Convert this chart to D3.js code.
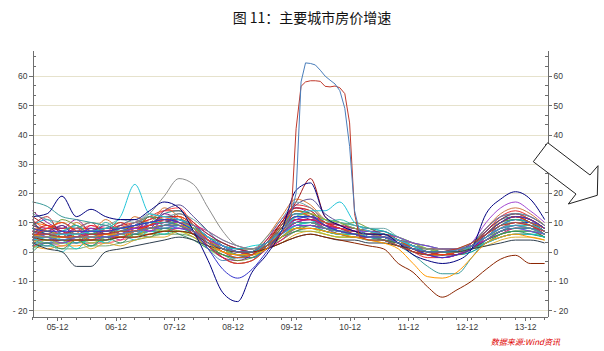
<!DOCTYPE html>
<meta charset="utf-8">
<style>
body { margin: 0; background: #fff; }
text.title { font-family: "Noto Sans CJK SC", sans-serif; font-size: 14px; fill: #111; text-anchor: middle; }
.axis text { font-family: "Liberation Sans", Arial, sans-serif; font-size: 8.5px; fill: #3a3a3a; }
.axis path, .axis line { stroke: #6e6e6e; shape-rendering: crispEdges; }
line.minor { stroke: #6e6e6e; shape-rendering: crispEdges; }
line.grid { stroke: #e6e2cc; shape-rendering: crispEdges; }
text.source { font-family: "Noto Sans CJK SC", sans-serif; font-size: 8px; font-style: italic; fill: #e00000; text-anchor: end; }
</style>
<script src="https://d3js.org/d3.v7.min.js"></script>
<div id="chart"></div>
<script>

// quarterly sample months shared by most cities
const quarterMonths = ["2005-07","2005-10","2006-01","2006-04","2006-07","2006-10","2007-01","2007-04","2007-07","2007-10","2008-01","2008-04","2008-07","2008-10","2009-01","2009-04","2009-07","2009-10","2010-01","2010-04","2010-07","2010-10","2011-01","2011-04","2011-07","2011-10","2012-01","2012-04","2012-07","2012-10","2013-01","2013-04","2013-07","2013-10","2014-01","2014-04"];

// the two spiking cities have monthly points around 2010
const spikeMonths = ["2005-07","2005-10","2006-01","2006-04","2006-07","2006-10","2007-01","2007-04","2007-07","2007-10","2008-01","2008-04","2008-07","2008-10","2009-01","2009-04","2009-07","2009-10",
  "2009-11","2009-12","2010-01","2010-02","2010-03","2010-04","2010-05","2010-06","2010-07","2010-08","2010-09","2010-10","2010-11","2010-12","2011-01","2011-02",
  "2011-04","2011-07","2011-10","2012-01","2012-04","2012-07","2012-10","2013-01","2013-04","2013-07","2013-10","2014-01","2014-04"];

const xTickMonths = ["2005-12","2006-12","2007-12","2008-12","2009-12","2010-12","2011-12","2012-12","2013-12"];
const xTickLabels = ["05-12","06-12","07-12","08-12","09-12","10-12","11-12","12-12","13-12"];
const yTicks = [-20,-10,0,10,20,30,40,50,60];

// city series (YoY %, quarterly)
const c01 = [9,7,6,7,7,6, 8,10,12,14,14,10, 4,-2,-4,-3,3,10, 16,15,10,8,7,6, 6,3,0,-2,-2,-1, 2,7,12,14,12,9];
const c02 = [4,6,3,5,2,4, 5,5,6,6,7,6, 4,2,1,1,2,4, 7,7,6,5,5,4, 4,3,2,1,1,1, 2,3,5,6,6,5];
const c03 = [7,6,5,5,6,6, 7,8,9,10,9,7, 3,0,-1,-1,2,8, 12,12,9,8,7,6, 5,3,1,-1,-1,0, 2,6,9,11,10,7];
const c04 = [3,2,3,4,3,4, 5,6,8,9,10,8, 4,1,-1,0,3,6, 10,10,8,7,6,5, 4,2,0,-1,-1,0, 1,4,7,8,7,5];
const c05 = [10,7,9,6,8,7, 8,9,10,11,10,8, 4,1,-1,-2,2,8, 13,12,8,7,6,5, 5,3,1,-1,-2,-1, 1,5,9,11,10,7];
const c06 = [5,5,4,5,5,6, 7,8,8,9,9,7, 3,1,0,0,3,6, 9,10,8,7,6,6, 5,4,2,1,0,0, 2,5,7,8,8,6];
const c07 = [2,1,2,2,3,3, 4,5,6,7,8,7, 4,2,0,0,2,5, 9,10,9,8,7,6, 6,4,2,1,0,0, 1,4,7,9,9,7];
const c08 = [8,6,5,6,6,5, 6,7,9,13,14,9, 3,0,-1,-1,3,9, 14,13,9,7,6,5, 4,2,0,-1,-1,0, 3,7,11,12,10,7];
const c09 = [6,5,5,6,6,6, 7,8,9,10,11,9, 5,2,0,-1,2,6, 11,12,10,8,7,6, 6,4,2,0,0,1, 2,5,8,10,10,8];
const c10 = [12,9,7,6,6,6, 7,9,11,12,12,9, 5,1,-1,-1,3,10, 17,25,12,9,7,6, 5,3,1,0,-1,0, 2,6,10,12,10,7];
const c11 = [4,3,3,3,4,4, 5,6,7,8,7,5, 1,-2,-4,-3,1,5, 8,8,6,5,5,4, 4,2,0,-1,-1,0, 1,3,6,7,7,5];
const c12 = [5,3,6,3,6,5, 6,7,7,8,8,6, 2,-1,-2,-2,1,5, 9,9,7,6,5,4, 4,3,1,0,-1,0, 1,4,7,9,9,7];
const c13 = [3,3,2,3,3,3, 4,5,6,7,8,7, 5,3,1,0,1,4, 7,8,7,6,6,5, 5,4,3,2,1,1, 1,3,5,6,6,5];
const c14 = [7,7,6,6,6,7, 8,9,10,11,11,9, 5,2,0,0,2,6, 10,10,8,7,6,5, 5,4,2,0,-1,-1, 1,4,7,8,8,6];
const c15 = [9,8,8,8,8,8, 8,9,10,10,10,8, 5,2,1,0,3,8, 12,11,8,6,5,5, 4,3,1,0,0,0, 2,6,10,12,11,8];
const c16 = [2,2,1,1,2,2, 3,4,5,6,6,5, 2,0,-1,-1,1,4, 7,8,7,6,6,5, 5,4,2,1,0,0, 1,3,5,6,6,5];
const c17 = [11,8,10,7,9,8, 9,10,11,14,15,9, 4,0,-1,-1,3,9, 15,14,9,7,6,5, 5,2,0,-1,-2,-1, 2,7,11,13,11,8];
const c18 = [6,6,6,7,7,7, 7,8,8,9,9,8, 5,3,1,1,3,6, 10,10,8,7,7,6, 6,5,3,1,1,1, 2,5,8,9,9,7];
const c19 = [1,3,0,4,2,5, 5,6,7,8,9,7, 3,0,-2,-2,1,5, 9,10,8,7,6,5, 5,3,1,-1,-1,-1, 0,3,6,8,8,6];
const c20 = [8,7,6,6,7,7, 8,9,10,11,10,8, 3,0,-2,-2,1,6, 10,10,8,7,6,5, 5,3,1,0,-1,-1, 1,5,8,10,9,7];
const c21 = [5,5,5,5,5,5, 6,6,7,8,8,7, 4,2,1,1,2,5, 8,9,8,7,6,6, 5,4,3,2,1,1, 2,4,6,7,7,6];
const c22 = [4,4,4,5,5,5, 6,7,8,9,9,8, 5,2,0,0,2,6, 10,11,9,8,7,6, 6,4,2,0,0,0, 2,5,8,9,9,7];
const c23 = [7,6,5,6,6,6, 7,8,9,10,10,8, 4,1,0,-1,2,7, 11,11,8,7,6,5, 5,3,1,0,0,0, 1,4,7,8,8,6];
const c24 = [3,3,4,4,4,5, 6,7,8,9,9,7, 3,0,-1,-1,2,7, 11,11,9,8,7,6, 5,4,2,1,0,0, 2,5,9,11,10,8];
const c25 = [10,9,8,8,8,7, 8,8,9,10,10,8, 4,1,0,0,3,7, 11,11,8,7,6,6, 5,3,1,0,0,0, 2,5,8,9,9,7];
const c26 = [6,4,7,3,5,6, 6,7,8,8,8,6, 2,-1,-2,-2,1,5, 8,9,7,6,6,5, 4,3,1,0,-1,-1, 0,3,6,7,7,5];
const c27 = [5,6,6,6,6,6, 6,7,8,9,10,9, 6,3,1,0,2,6, 10,11,9,7,6,5, 5,4,2,1,0,0, 1,4,7,8,8,6];
const c28 = [8,7,6,6,6,6, 7,7,8,9,9,7, 3,1,0,0,3,8, 12,12,9,7,6,6, 5,3,1,0,0,1, 3,6,9,10,9,7];
const c29 = [2,3,3,4,4,5, 5,6,7,7,8,7, 4,2,0,0,1,4, 8,9,8,7,6,5, 5,3,1,0,0,0, 1,3,6,8,8,6];
const c30 = [9,11,7,9,6,8, 8,9,10,11,11,8, 4,1,-1,-1,2,7, 12,12,9,7,6,5, 4,2,0,-1,-1,0, 2,6,10,11,10,7];
const c31 = [4,4,4,4,5,5, 5,6,6,7,7,6, 3,1,0,0,2,5, 8,8,7,6,5,5, 4,3,2,1,1,1, 2,4,6,7,7,5];
const c32 = [7,6,6,6,6,6, 7,8,9,10,10,8, 4,1,0,-1,2,8, 13,13,10,8,7,6, 6,4,2,0,0,0, 2,6,10,12,11,8];
const c33 = [3,3,3,3,4,4, 5,6,7,7,7,6, 3,1,0,0,2,5, 8,9,7,6,6,5, 5,3,2,1,0,0, 1,3,6,7,7,6];
const c34 = [6,6,5,5,5,5, 6,7,8,8,8,7, 4,2,1,1,3,7, 11,11,8,7,6,5, 5,4,2,1,0,1, 2,5,8,9,8,6];
const c35 = [6,6,5,6,6,6, 7,8,9,10,10,8, 4,1,0,-1,2,7, 11,11,8,7,6,5, 5,3,1,-1,-2,-1, 3,10,15,17,14,10];
const c36 = [5,5,5,5,5,6, 6,7,8,9,9,7, 4,1,0,0,2,6, 10,10,8,7,6,5, 5,3,1,0,-1,0, 2,8,13,15,13,9];
const c37 = [14,10,8,11,7,9, 6,10,8,13,11,8, 2,-2,-3,-1,4,11, 15,13,9,10,7,8, 5,4,1,0,-1,0, 3,8,12,13,11,8];
const c38 = [0,3,1,4,2,5, 3,6,5,8,6,4, 1,-1,-2,0,2,5, 7,9,8,8,6,7, 4,3,1,1,0,1, 1,4,6,7,6,5];
const c39 = [9,12,6,8,10,6, 9,7,12,10,13,10, 6,3,1,0,4,10, 15,14,10,9,8,7, 5,3,0,-1,-1,0, 2,6,10,12,11,8];
const c40 = [5,2,6,3,7,4, 8,6,10,8,9,6, 1,-3,-2,-1,2,9, 13,12,9,7,8,6, 6,3,2,0,0,0, 2,5,9,10,9,7];
const c41 = [7,9,5,10,7,11, 8,12,10,15,12,8, 3,0,-1,0,5,12, 18,16,11,9,8,7, 6,4,1,-1,-1,0, 2,6,11,13,11,8];
const c42 = [2,6,4,1,5,3, 6,4,7,6,9,8, 5,2,1,2,3,6, 9,10,11,10,9,8, 7,5,3,2,1,1, 1,3,5,6,6,5];
const c43 = [10,7,11,9,6,8, 10,8,12,11,9,6, 2,-1,-3,-2,2,8, 14,13,11,9,10,8, 6,4,1,-1,-1,-1, 1,6,10,11,9,6];
const c44 = [4,8,6,8,5,6, 4,9,7,11,10,9, 7,4,2,1,3,6, 10,11,10,9,8,7, 6,4,3,1,1,1, 2,4,7,8,8,7];
const c45 = [11,6,9,5,8,6, 9,11,9,14,16,12, 7,2,0,0,3,9, 16,18,13,10,8,7, 7,4,2,0,0,0, 2,7,11,13,12,9];
const c46 = [3,5,2,4,1,3, 2,4,5,5,7,5, 2,0,-1,-1,1,3, 6,7,6,5,5,4, 3,2,1,0,0,0, 1,2,4,5,5,4];
const c47 = [8,4,7,9,6,10, 7,9,12,9,11,7, 3,1,-1,-1,3,9, 13,12,10,11,9,8, 7,5,2,0,0,0, 2,6,9,11,10,8];
const c48 = [6,9,7,5,9,7, 10,8,9,12,10,6, 2,-2,-4,-3,1,6, 11,11,9,8,6,5, 5,3,1,0,-1,-1, 1,5,8,10,9,6];
const c49 = [13,11,10,8,10,9, 11,10,13,12,13,11, 7,4,2,1,5,11, 17,15,11,10,9,8, 8,5,3,1,0,1, 3,8,12,13,12,9];
const c50 = [1,4,3,6,3,5, 7,5,8,7,10,8, 4,1,-1,-1,2,7, 12,13,11,10,8,7, 6,5,3,1,0,0, 2,5,8,9,8,6];
const c51 = [7,5,3,5,8,5, 6,8,7,9,8,7, 4,2,0,0,2,6, 9,9,8,8,7,7, 6,5,3,2,1,1, 2,4,7,8,7,6];
const c52 = [5,8,10,7,4,6, 5,7,9,11,12,9, 4,0,-2,-1,3,9, 14,12,10,8,7,6, 6,4,1,-1,-1,0, 2,6,10,12,10,8];
// cities that stand out
const navyCity   = [12,13,19,12,14.5,12, 11,11,14,17,15,7, -3,-14,-17,-7,-1,7, 21,23.5,12,9,7,6, 6,3,-1,-3,-4,-3, 1,13,18,20.5,18,11];
const grayCity   = [5,6,6,6,7,7, 8,10,13,19,25,23, 15,7,2,1,3,7, 10,10,8,7,6,6, 5,4,2,1,1,1, 2,5,8,10,9,7];
const cyanCity   = [4,5,6,6,7,8, 12,23,13,12,11,9, 5,2,0,0,3,7, 12,14,14,17,10,7, 6,4,2,0,0,0, 2,5,8,9,9,7];
const tealCity   = [17,15.5,12,11,10,9, 8,9,10,10,9,7, 3,1,0,0,2,6, 10,10,8,7,6,5, 4,2,-1,-5,-7.5,-7.5, -2,4,7,8,8,6];
const slateCity  = [3,1,0,-5,-5,0, 1,2,3,4,5,4, 2,1,0,0,1,3, 5,6,5,4,4,3, 3,2,1,0,0,0, 1,2,3,4,4,3];
const brownCity  = [5,4,4,4,4,4, 5,5,6,7,7,6, 3,1,0,0,1,3, 5,6,5,4,3,2, 1,-4,-7,-12,-15.5,-13, -10,-6,-2.5,-1.2,-4,-4];
const orangeCity = [6,5,5,5,5,6, 6,7,8,9,9,7, 3,0,-1,-1,1,5, 8,8,7,6,5,4, 3,1,-4,-8.5,-9,-7, -2,3,5,6,5,4];
const blueCity   = [8,7,7,7,7,7, 8,9,10,11,10,7, 1,-6,-9,-6,0,7, 12,12,9,7,6,5, 5,3,1,-1,-2,-1, 1,6,10,12,11,8];
// spiking cities (on spikeMonths)
const spikeBlue = [5,5,4,5,5,5, 6,7,8,9,9,7, 3,1,0,0,3,7,
  9,13,20,58,64.5,64.3,63.8,62,60,58.6,57.3,55,49,36,14,7,
  5,5,3,1,0,0,0.5,2,5,8,9,8,6];
const spikeRed = [6,6,5,5,6,6, 7,7,8,9,9,7, 3,1,0,-1,2,6,
  9,12,42,56.5,58,58.4,58.4,58.2,56.5,56.3,56.6,56,54,44,13,5,
  4,4,2,0,-1,0,1,3,6,9,10,9,7];

const bandSeries = [c01,c02,c03,c04,c05,c06,c07,c08,c09,c10,c11,c12,c13,c14,c15,c16,c17,c18,
  c19,c20,c21,c22,c23,c24,c25,c26,c27,c28,c29,c30,c31,c32,c33,c34,c35,c36,
  c37,c38,c39,c40,c41,c42,c43,c44,c45,c46,c47,c48,c49,c50,c51,c52];
const bandColors = ["#e41a1c","#4daf4a","#ff00ff","#00d8d8","#800080","#808000","#ff8c00","#008080","#0000ff",
  "#990000","#99dd33","#1e90ff","#ff69b4","#a0522d","#333399","#669966","#ff3333","#33cc33",
  "#33cccc","#9966ff","#cc9900","#cc00cc","#006600","#3366ff","#ff6600","#009999","#663399",
  "#99cc00","#ff0066","#0099cc","#996600","#cc3366","#33cc99","#6666cc","#9933cc","#cc6633",
  "#8b008b","#2e8b57","#b22222","#4682b4","#d2691e","#00ced1","#6b8e23","#c71585","#483d8b",
  "#daa520","#20b2aa","#dc143c","#5f9ea0","#9acd32","#8a2be2","#ff4500"];
const specialSeries = [grayCity, cyanCity, tealCity, slateCity, brownCity, orangeCity, blueCity, navyCity];
const specialColors = ["#8c8c8c","#22c4d8","#3a9a9a","#2f3f4f","#8b2500","#ff9900","#3333cc","#000080"];

var parseMonth = d3.timeParse("%Y-%m");
var qDates = quarterMonths.map(parseMonth);
var sDates = spikeMonths.map(parseMonth);

var svg = d3.select("#chart").append("svg")
  .attr("width", 604).attr("height", 351);

var x = d3.scaleTime()
  .domain([new Date(2005, 6, 1), new Date(2014, 3, 19)])
  .range([32.5, 547.5]);
var y = d3.scaleLinear()
  .domain([-22.1, 68.9])
  .range([316.5, 50]);

// grid
svg.append("g").selectAll("line").data(yTicks).join("line")
  .attr("class", "grid")
  .attr("x1", x.range()[0]).attr("x2", x.range()[1])
  .attr("y1", d => Math.round(y(d)) + 0.5).attr("y2", d => Math.round(y(d)) + 0.5);

var smooth = d3.line().curve(d3.curveMonotoneX);
var straight = d3.line();

function draw(values, dates, color, gen, w) {
  svg.append("path")
    .attr("d", gen(values.map((v, i) => [x(dates[i]), y(v)])))
    .attr("fill", "none")
    .attr("stroke", color)
    .attr("stroke-width", w)
    .attr("stroke-linejoin", "round");
}

bandSeries.forEach((s, i) => draw(s, qDates, bandColors[i], smooth, 0.9));
specialSeries.forEach((s, i) => draw(s, qDates, specialColors[i], smooth, 1));
draw(spikeRed, sDates, "#c0392b", straight, 1);
draw(spikeBlue, sDates, "#4a7ebb", straight, 1);

// axes
var yFmt = d => d < 0 ? "- " + (-d) : d;
svg.append("g").attr("class", "axis")
  .attr("transform", "translate(" + x.range()[0] + ",0)")
  .call(d3.axisLeft(y).tickValues(yTicks).tickSize(4).tickSizeOuter(0).tickPadding(1).tickFormat(yFmt));
svg.append("g").attr("class", "axis")
  .attr("transform", "translate(" + x.range()[1] + ",0)")
  .call(d3.axisRight(y).tickValues(yTicks).tickSize(4).tickSizeOuter(0).tickPadding(2).tickFormat(yFmt));
svg.append("g").attr("class", "axis")
  .attr("transform", "translate(0," + y.range()[0] + ")")
  .call(d3.axisBottom(x).tickValues(xTickMonths.map(parseMonth)).tickSize(4).tickSizeOuter(0).tickPadding(3)
    .tickFormat((d, i) => xTickLabels[i]));

// minor ticks
var minorY = d3.range(-20, 68.9, 10 / 3).filter(v => Math.abs(v / 10 - Math.round(v / 10)) > 0.01);
svg.append("g").selectAll("line").data(minorY).join("line").attr("class", "minor")
  .attr("x1", x.range()[0]).attr("x2", x.range()[0] + 3)
  .attr("y1", d => y(d)).attr("y2", d => y(d));
svg.append("g").selectAll("line").data(minorY).join("line").attr("class", "minor")
  .attr("x1", x.range()[1] - 3).attr("x2", x.range()[1])
  .attr("y1", d => y(d)).attr("y2", d => y(d));
var minorX = d3.timeMonth.every(3).range(new Date(2005, 6, 1), new Date(2014, 3, 2))
  .filter(d => d.getMonth() != 11);
svg.append("g").selectAll("line").data(minorX).join("line").attr("class", "minor")
  .attr("x1", d => x(d)).attr("x2", d => x(d))
  .attr("y1", y.range()[0]).attr("y2", y.range()[0] + 3);

// arrow annotation
svg.append("polygon")
  .attr("points", "547.7,142.7 590,175 598,165.7 597.3,195.3 568.3,204 576,194 533.3,161.7")
  .attr("fill", "#fff").attr("stroke", "#222").attr("stroke-width", 1);

svg.append("text").attr("class", "title")
  .attr("x", 312).attr("y", 23)
  .text("图 11：主要城市房价增速");

svg.append("text").attr("class", "source")
  .attr("x", 560).attr("y", 345)
  .text("数据来源:Wind资讯");

</script>
